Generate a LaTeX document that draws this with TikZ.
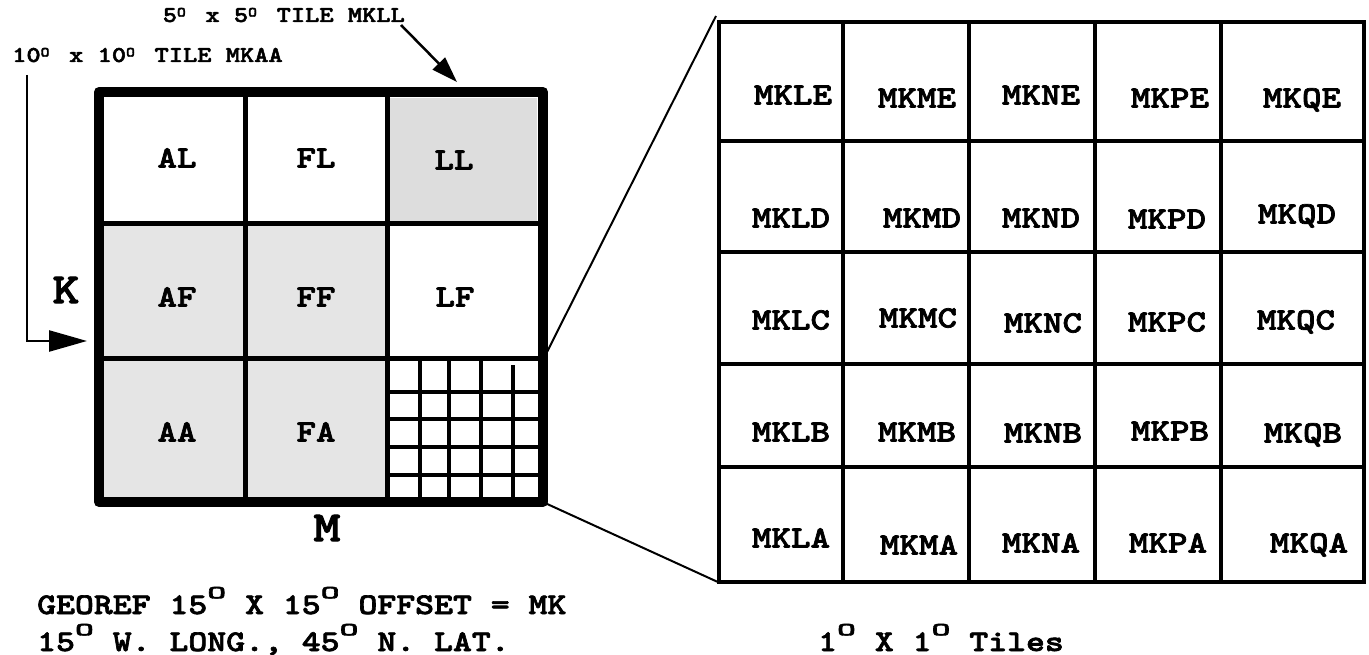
\documentclass[tikz,border=0pt]{standalone}
\usepackage{fontspec}
\usepackage{graphicx}
\usetikzlibrary{arrows.meta}
\newfontfamily\cour[FakeStretch=1.2,FakeBold=2.2]{lmmonolt10-bold.otf}
\newcommand\supO{\raisebox{0.52em}{\scalebox{1}[0.62]{O}}}
\newcommand\degO{\makebox[0.63em][l]{\raisebox{0.24em}{\scalebox{0.62}{O}}}}
\tikzset{
  toplbl/.style={inner sep=0pt, font={\cour\fontsize{22.6}{22.6}\selectfont}},
  btmlbl/.style={inner sep=0pt, font={\cour\fontsize{30}{30}\selectfont}},
  cellbl/.style={inner sep=0pt, anchor=center, text height=19pt, text depth=0pt, font={\cour\fontsize{31}{31}\selectfont}},
  axislbl/.style={inner sep=0pt, anchor=center, font={\cour\fontsize{43}{43}\selectfont}},
  inl/.style={line width=5pt},
  fine/.style={line width=4pt},
  rgrid/.style={line width=4.5pt},
  conn/.style={line width=2pt},
  arr/.style={line width=2.5pt},
  cellA/.style={fill=gray!20},
  cellB/.style={fill=gray!27},
}
\begin{document}
\begin{tikzpicture}[x=1pt,y=-1pt]
\useasboundingbox (0,0) rectangle (1369,655);

% ---- left 15x15 square ----
\fill[cellB] (390,98) rectangle (537,221);
\fill[cellA] (104,226) rectangle (385,356);
\fill[cellA] (104,361) rectangle (385,497);

\draw[inl] (245.5,92) -- (245.5,502);
\draw[inl] (387.5,92) -- (387.5,502);
\draw[inl] (99,223.5) -- (543,223.5);
\draw[inl] (99,358.5) -- (543,358.5);

% small 5x5 grid
\foreach \x in {420,449,480.5} \draw[fine] (\x,358) -- (\x,502);
\draw[fine] (512.5,365) -- (512.5,502);
\foreach \y in {391.5,419,447,475} \draw[fine] (387,\y) -- (543,\y);

\draw[line width=10pt, line join=round] (99,92) rectangle (543,502);

% ---- right 1x1 grid ----
\foreach \x in {843,969,1095,1221} \draw[rgrid] (\x,22) -- (\x,582);
\foreach \y in {141,252,364,467} \draw[rgrid] (719,\y) -- (1364,\y);
\draw[rgrid] (719,22) rectangle (1364,582);

% connectors between the small grid and the large grid
\coordinate (sqA) at (547,352);
\coordinate (sqB) at (545,503);
\coordinate (gNW) at (716,16);
\coordinate (gSW) at (720,583);
\draw[conn] (sqA) -- (gNW);
\draw[conn] (sqB) -- (gSW);

% ---- cell labels left ----
\node[cellbl] (AL) at (177,158) {AL};
\node[cellbl] (FL) at (316,158) {FL};
\node[cellbl] (LL) at (454,160) {LL};
\node[cellbl] (AF) at (177,297) {AF};
\node[cellbl] (FF) at (316,297) {FF};
\node[cellbl] (LF) at (455,297) {LF};
\node[cellbl] (AA) at (177,432) {AA};
\node[cellbl] (FA) at (316,432) {FA};

% ---- cell labels right ----
\node[cellbl] (MKLE) at (793,95) {MKLE};
\node[cellbl] (MKME) at (917,98) {MKME};
\node[cellbl] (MKNE) at (1041,95) {MKNE};
\node[cellbl] (MKPE) at (1170,98) {MKPE};
\node[cellbl] (MKQE) at (1302,98) {MKQE};

\node[cellbl] (MKLD) at (791,218) {MKLD};
\node[cellbl] (MKMD) at (922,218) {MKMD};
\node[cellbl] (MKND) at (1041,218) {MKND};
\node[cellbl] (MKPD) at (1167,219) {MKPD};
\node[cellbl] (MKQD) at (1297,214) {MKQD};

\node[cellbl] (MKLC) at (791,320) {MKLC};
\node[cellbl] (MKMC) at (918,318) {MKMC};
\node[cellbl] (MKNC) at (1043,323) {MKNC};
\node[cellbl] (MKPC) at (1167,322) {MKPC};
\node[cellbl] (MKQC) at (1296,320) {MKQC};

\node[cellbl] (MKLB) at (791,432) {MKLB};
\node[cellbl] (MKMB) at (917,432) {MKMB};
\node[cellbl] (MKNB) at (1043,433) {MKNB};
\node[cellbl] (MKPB) at (1170,431) {MKPB};
\node[cellbl] (MKQB) at (1303,433) {MKQB};

\node[cellbl] (MKLA) at (791,538) {MKLA};
\node[cellbl] (MKMA) at (919,545) {MKMA};
\node[cellbl] (MKNA) at (1041,543) {MKNA};
\node[cellbl] (MKPA) at (1168,543) {MKPA};
\node[cellbl] (MKQA) at (1309,543) {MKQA};

% ---- axis letters ----
\node[axislbl] (K) at (66,290) {K};
\node[axislbl] (M) at (327,528) {M};

% ---- top labels and arrows ----
\node[toplbl, anchor=base west] (mkaa) at (12,62) {10\degO{} x 10\degO{} TILE MKAA};
\node[toplbl, anchor=base east] (mkll) at (405,22) {5\degO{} x 5\degO{} TILE MKLL};

\coordinate (a1s) at (27,75);
\coordinate (kin) at (87,341);
\draw[arr, -{Triangle[length=38pt,width=21pt]}] (a1s) |- (kin);

\coordinate (a2s) at (401,25);
\coordinate (llin) at (457,82);
\draw[arr, -{Triangle[length=26pt,width=17pt]}] (a2s) -- (llin);

% ---- bottom texts ----
\node[btmlbl, anchor=base west] (geo1) at (37,614) {GEOREF 15\supO{} X 15\supO{} OFFSET = MK};
\node[btmlbl, anchor=base west] (geo2) at (37,651) {15\supO{} W. LONG., 45\supO{} N. LAT.};
\node[btmlbl, anchor=base] (tiles) at (941,651) {1\supO{} X 1\supO{} Tiles};
\end{tikzpicture}
\end{document}
